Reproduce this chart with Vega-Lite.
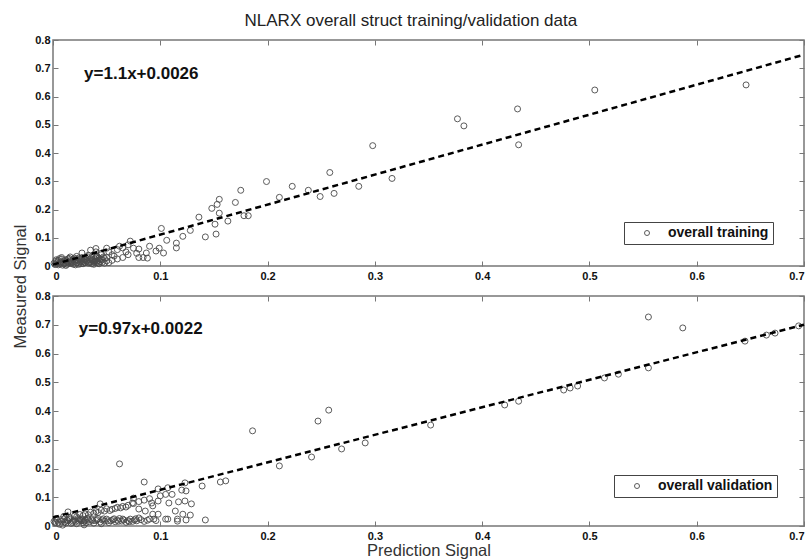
{
  "$schema": "https://vega.github.io/schema/vega-lite/v6.json",
  "padding": {"left": 11, "top": 12, "right": 0, "bottom": 0},
  "title": {
    "text": "NLARX overall struct training/validation data",
    "fontSize": 17,
    "fontWeight": "normal",
    "font": "Liberation Sans",
    "color": "#222",
    "anchor": "middle",
    "offset": 3
  },
  "config": {
    "font": "Liberation Sans",
    "view": {"stroke": "#777", "strokeWidth": 1.5},
    "axis": {
      "grid": false,
      "domain": false,
      "tickColor": "#777",
      "tickSize": -5,
      "labelFont": "Liberation Sans",
      "labelFontWeight": "bold",
      "labelFontSize": 11,
      "labelColor": "#111",
      "titleFont": "Liberation Sans",
      "titleFontWeight": "normal",
      "titleFontSize": 16.5,
      "titleColor": "#333"
    },
    "legend": {
      "title": null,
      "orient": "none",
      "strokeColor": "#444",
      "fillColor": "white",
      "padding": 4,
      "symbolOffset": 12,
      "labelOffset": 14,
      "labelFont": "Liberation Sans",
      "labelFontSize": 14,
      "labelFontWeight": "bold",
      "labelColor": "#111",
      "symbolSize": 25,
      "symbolStrokeWidth": 1
    }
  },
  "datasets": {
    "train": [
      {"x": 0.298, "y": 0.426}, {"x": 0.258, "y": 0.331}, {"x": 0.316, "y": 0.31}, {"x": 0.285, "y": 0.282},
      {"x": 0.262, "y": 0.257}, {"x": 0.249, "y": 0.246}, {"x": 0.238, "y": 0.268}, {"x": 0.223, "y": 0.282},
      {"x": 0.211, "y": 0.243}, {"x": 0.199, "y": 0.299}, {"x": 0.175, "y": 0.268}, {"x": 0.17, "y": 0.225},
      {"x": 0.155, "y": 0.236}, {"x": 0.153, "y": 0.218}, {"x": 0.148, "y": 0.204}, {"x": 0.155, "y": 0.187},
      {"x": 0.136, "y": 0.173}, {"x": 0.163, "y": 0.159}, {"x": 0.178, "y": 0.178}, {"x": 0.182, "y": 0.178},
      {"x": 0.151, "y": 0.148}, {"x": 0.142, "y": 0.103}, {"x": 0.152, "y": 0.113}, {"x": 0.128, "y": 0.126},
      {"x": 0.121, "y": 0.105}, {"x": 0.101, "y": 0.133}, {"x": 0.106, "y": 0.091}, {"x": 0.115, "y": 0.081},
      {"x": 0.115, "y": 0.064}, {"x": 0.099, "y": 0.063}, {"x": 0.377, "y": 0.521}, {"x": 0.383, "y": 0.496},
      {"x": 0.433, "y": 0.556}, {"x": 0.434, "y": 0.429}, {"x": 0.505, "y": 0.623}, {"x": 0.646, "y": 0.641},
      {"x": 0.027, "y": 0.046}, {"x": 0.035, "y": 0.056}, {"x": 0.04, "y": 0.05}, {"x": 0.045, "y": 0.045},
      {"x": 0.05, "y": 0.063}, {"x": 0.052, "y": 0.05}, {"x": 0.055, "y": 0.04}, {"x": 0.057, "y": 0.035},
      {"x": 0.06, "y": 0.058}, {"x": 0.062, "y": 0.07}, {"x": 0.065, "y": 0.064}, {"x": 0.068, "y": 0.05},
      {"x": 0.07, "y": 0.075}, {"x": 0.072, "y": 0.088}, {"x": 0.075, "y": 0.063}, {"x": 0.078, "y": 0.045},
      {"x": 0.08, "y": 0.06}, {"x": 0.08, "y": 0.03}, {"x": 0.084, "y": 0.03}, {"x": 0.087, "y": 0.046},
      {"x": 0.088, "y": 0.028}, {"x": 0.09, "y": 0.07}, {"x": 0.096, "y": 0.053}, {"x": 0.103, "y": 0.046},
      {"x": 0.055, "y": 0.02}, {"x": 0.06, "y": 0.025}, {"x": 0.05, "y": 0.03}, {"x": 0.065, "y": 0.03},
      {"x": 0.07, "y": 0.04}, {"x": 0.04, "y": 0.062},
      {"x": 0.002, "y": 0.005}, {"x": 0.004, "y": 0.012}, {"x": 0.005, "y": 0.02}, {"x": 0.006, "y": 0.008},
      {"x": 0.007, "y": 0.015}, {"x": 0.008, "y": 0.025}, {"x": 0.009, "y": 0.003}, {"x": 0.01, "y": 0.018},
      {"x": 0.011, "y": 0.01}, {"x": 0.012, "y": 0.022}, {"x": 0.013, "y": 0.006}, {"x": 0.014, "y": 0.014},
      {"x": 0.015, "y": 0.027}, {"x": 0.016, "y": 0.019}, {"x": 0.017, "y": 0.009}, {"x": 0.018, "y": 0.013},
      {"x": 0.019, "y": 0.024}, {"x": 0.02, "y": 0.016}, {"x": 0.021, "y": 0.004}, {"x": 0.022, "y": 0.011},
      {"x": 0.023, "y": 0.02}, {"x": 0.024, "y": 0.028}, {"x": 0.025, "y": 0.014}, {"x": 0.026, "y": 0.008},
      {"x": 0.027, "y": 0.021}, {"x": 0.028, "y": 0.017}, {"x": 0.029, "y": 0.026}, {"x": 0.03, "y": 0.012},
      {"x": 0.031, "y": 0.019}, {"x": 0.032, "y": 0.033}, {"x": 0.033, "y": 0.01}, {"x": 0.034, "y": 0.023},
      {"x": 0.035, "y": 0.015}, {"x": 0.036, "y": 0.03}, {"x": 0.037, "y": 0.018}, {"x": 0.038, "y": 0.006},
      {"x": 0.039, "y": 0.025}, {"x": 0.04, "y": 0.012}, {"x": 0.041, "y": 0.035}, {"x": 0.042, "y": 0.02},
      {"x": 0.043, "y": 0.028}, {"x": 0.044, "y": 0.015}, {"x": 0.045, "y": 0.04}, {"x": 0.046, "y": 0.022},
      {"x": 0.047, "y": 0.032}, {"x": 0.048, "y": 0.01}, {"x": 0.003, "y": 0.017}, {"x": 0.006, "y": 0.026},
      {"x": 0.009, "y": 0.013}, {"x": 0.012, "y": 0.002}, {"x": 0.015, "y": 0.01}, {"x": 0.018, "y": 0.02},
      {"x": 0.02, "y": 0.028}, {"x": 0.024, "y": 0.006}, {"x": 0.027, "y": 0.03}, {"x": 0.03, "y": 0.022},
      {"x": 0.033, "y": 0.038}, {"x": 0.036, "y": 0.008}, {"x": 0.039, "y": 0.018}, {"x": 0.042, "y": 0.01},
      {"x": 0.001, "y": 0.01}, {"x": 0.008, "y": 0.03}, {"x": 0.016, "y": 0.032}, {"x": 0.022, "y": 0.034},
      {"x": 0.003, "y": 0.022}, {"x": 0.005, "y": 0.004}, {"x": 0.007, "y": 0.011}, {"x": 0.01, "y": 0.007},
      {"x": 0.013, "y": 0.017}, {"x": 0.014, "y": 0.025}, {"x": 0.017, "y": 0.015}, {"x": 0.019, "y": 0.006},
      {"x": 0.021, "y": 0.022}, {"x": 0.023, "y": 0.013}, {"x": 0.025, "y": 0.024}, {"x": 0.026, "y": 0.017},
      {"x": 0.028, "y": 0.008}, {"x": 0.029, "y": 0.014}, {"x": 0.031, "y": 0.027}, {"x": 0.032, "y": 0.016},
      {"x": 0.034, "y": 0.012}, {"x": 0.035, "y": 0.026}, {"x": 0.037, "y": 0.022}, {"x": 0.038, "y": 0.014},
      {"x": 0.04, "y": 0.029}, {"x": 0.041, "y": 0.017}, {"x": 0.043, "y": 0.008}, {"x": 0.044, "y": 0.024},
      {"x": 0.046, "y": 0.013}, {"x": 0.048, "y": 0.027}, {"x": 0.05, "y": 0.018}, {"x": 0.052, "y": 0.012}
    ],
    "valid": [
      {"x": 0.257, "y": 0.403}, {"x": 0.247, "y": 0.365}, {"x": 0.186, "y": 0.331}, {"x": 0.062, "y": 0.216},
      {"x": 0.085, "y": 0.153}, {"x": 0.211, "y": 0.209}, {"x": 0.241, "y": 0.24}, {"x": 0.269, "y": 0.268},
      {"x": 0.291, "y": 0.289}, {"x": 0.156, "y": 0.153}, {"x": 0.161, "y": 0.157}, {"x": 0.139, "y": 0.139},
      {"x": 0.123, "y": 0.15}, {"x": 0.124, "y": 0.122}, {"x": 0.107, "y": 0.133}, {"x": 0.098, "y": 0.129},
      {"x": 0.111, "y": 0.11}, {"x": 0.117, "y": 0.084}, {"x": 0.123, "y": 0.087}, {"x": 0.129, "y": 0.077},
      {"x": 0.114, "y": 0.052}, {"x": 0.121, "y": 0.041}, {"x": 0.128, "y": 0.038}, {"x": 0.142, "y": 0.021},
      {"x": 0.124, "y": 0.021}, {"x": 0.116, "y": 0.024}, {"x": 0.107, "y": 0.024}, {"x": 0.098, "y": 0.087},
      {"x": 0.093, "y": 0.07}, {"x": 0.098, "y": 0.041}, {"x": 0.093, "y": 0.041}, {"x": 0.086, "y": 0.052},
      {"x": 0.08, "y": 0.059}, {"x": 0.075, "y": 0.097}, {"x": 0.074, "y": 0.08}, {"x": 0.044, "y": 0.077},
      {"x": 0.014, "y": 0.049}, {"x": 0.08, "y": 0.028}, {"x": 0.092, "y": 0.08}, {"x": 0.108, "y": 0.08},
      {"x": 0.116, "y": 0.017}, {"x": 0.105, "y": 0.024}, {"x": 0.094, "y": 0.024},
      {"x": 0.555, "y": 0.727}, {"x": 0.587, "y": 0.689}, {"x": 0.695, "y": 0.696}, {"x": 0.673, "y": 0.671},
      {"x": 0.665, "y": 0.664}, {"x": 0.645, "y": 0.643}, {"x": 0.555, "y": 0.55}, {"x": 0.527, "y": 0.528},
      {"x": 0.514, "y": 0.515}, {"x": 0.489, "y": 0.487}, {"x": 0.482, "y": 0.48}, {"x": 0.476, "y": 0.473},
      {"x": 0.434, "y": 0.434}, {"x": 0.421, "y": 0.421}, {"x": 0.352, "y": 0.351},
      {"x": 0.02, "y": 0.035}, {"x": 0.025, "y": 0.04}, {"x": 0.03, "y": 0.042}, {"x": 0.035, "y": 0.048},
      {"x": 0.04, "y": 0.05}, {"x": 0.045, "y": 0.055}, {"x": 0.05, "y": 0.06}, {"x": 0.055, "y": 0.058},
      {"x": 0.06, "y": 0.065}, {"x": 0.065, "y": 0.068}, {"x": 0.07, "y": 0.072}, {"x": 0.075, "y": 0.078},
      {"x": 0.08, "y": 0.085}, {"x": 0.085, "y": 0.09}, {"x": 0.09, "y": 0.095}, {"x": 0.1, "y": 0.105},
      {"x": 0.105, "y": 0.11}, {"x": 0.12, "y": 0.125},
      {"x": 0.022, "y": 0.032}, {"x": 0.028, "y": 0.036}, {"x": 0.033, "y": 0.039}, {"x": 0.038, "y": 0.044},
      {"x": 0.042, "y": 0.047}, {"x": 0.048, "y": 0.052}, {"x": 0.053, "y": 0.054}, {"x": 0.058, "y": 0.061},
      {"x": 0.063, "y": 0.063}, {"x": 0.068, "y": 0.066}, {"x": 0.015, "y": 0.03}, {"x": 0.01, "y": 0.033},
      {"x": 0.002, "y": 0.012}, {"x": 0.004, "y": 0.02}, {"x": 0.006, "y": 0.006}, {"x": 0.008, "y": 0.016},
      {"x": 0.01, "y": 0.024}, {"x": 0.012, "y": 0.01}, {"x": 0.014, "y": 0.018}, {"x": 0.016, "y": 0.028},
      {"x": 0.018, "y": 0.013}, {"x": 0.02, "y": 0.021}, {"x": 0.022, "y": 0.008}, {"x": 0.024, "y": 0.017},
      {"x": 0.026, "y": 0.025}, {"x": 0.028, "y": 0.012}, {"x": 0.03, "y": 0.02}, {"x": 0.032, "y": 0.027},
      {"x": 0.034, "y": 0.015}, {"x": 0.036, "y": 0.022}, {"x": 0.038, "y": 0.01}, {"x": 0.04, "y": 0.019},
      {"x": 0.042, "y": 0.026}, {"x": 0.044, "y": 0.014}, {"x": 0.046, "y": 0.021}, {"x": 0.048, "y": 0.017},
      {"x": 0.05, "y": 0.024}, {"x": 0.052, "y": 0.012}, {"x": 0.054, "y": 0.019}, {"x": 0.056, "y": 0.022},
      {"x": 0.058, "y": 0.015}, {"x": 0.06, "y": 0.02}, {"x": 0.062, "y": 0.026}, {"x": 0.064, "y": 0.017},
      {"x": 0.066, "y": 0.021}, {"x": 0.068, "y": 0.013}, {"x": 0.07, "y": 0.019}, {"x": 0.072, "y": 0.024},
      {"x": 0.074, "y": 0.016}, {"x": 0.076, "y": 0.021}, {"x": 0.078, "y": 0.018}, {"x": 0.082, "y": 0.022},
      {"x": 0.085, "y": 0.016}, {"x": 0.088, "y": 0.02}, {"x": 0.09, "y": 0.024}, {"x": 0.096, "y": 0.019},
      {"x": 0.001, "y": 0.016}, {"x": 0.003, "y": 0.026}, {"x": 0.007, "y": 0.022}, {"x": 0.011, "y": 0.014},
      {"x": 0.015, "y": 0.023}, {"x": 0.019, "y": 0.017}, {"x": 0.023, "y": 0.026}, {"x": 0.027, "y": 0.019},
      {"x": 0.031, "y": 0.012}, {"x": 0.029, "y": 0.004}, {"x": 0.009, "y": 0.003}, {"x": 0.045, "y": 0.008},
      {"x": 0.005, "y": 0.013}, {"x": 0.013, "y": 0.021}, {"x": 0.017, "y": 0.009}, {"x": 0.021, "y": 0.015},
      {"x": 0.025, "y": 0.022}, {"x": 0.029, "y": 0.017}, {"x": 0.033, "y": 0.023}, {"x": 0.037, "y": 0.018},
      {"x": 0.041, "y": 0.022}, {"x": 0.047, "y": 0.025}, {"x": 0.051, "y": 0.018}, {"x": 0.057, "y": 0.025},
      {"x": 0.061, "y": 0.016}, {"x": 0.065, "y": 0.024}, {"x": 0.071, "y": 0.015}, {"x": 0.077, "y": 0.025}
    ],
    "fitTrain": [{"x": 0, "y": 0.005}, {"x": 0.7, "y": 0.748}],
    "fitValid": [{"x": 0, "y": 0.03}, {"x": 0.7, "y": 0.7}]
  },
  "bounds": "flush",
  "spacing": 30,
  "vconcat": [
    {
      "width": 751,
      "height": 226,
      "layer": [
        {
          "data": {"name": "train"},
          "mark": {"type": "point", "shape": "circle", "filled": false, "size": 36, "strokeWidth": 1, "opacity": 0.9},
          "encoding": {
            "x": {"field": "x", "type": "quantitative", "scale": {"domain": [0, 0.7], "nice": false},
                  "axis": {"values": [0, 0.1, 0.2, 0.3, 0.4, 0.5, 0.6, 0.7], "format": "~g", "title": null, "labelPadding": 9}},
            "y": {"field": "y", "type": "quantitative", "scale": {"domain": [0, 0.8], "nice": false},
                  "axis": {"values": [0, 0.1, 0.2, 0.3, 0.4, 0.5, 0.6, 0.7, 0.8], "format": "~g", "title": null, "labelPadding": 8}},
            "color": {"datum": "overall training", "type": "nominal", "scale": {"range": ["#4a4a4a"]},
                      "legend": {"legendX": 571, "legendY": 182}}
          }
        },
        {
          "data": {"name": "fitTrain"},
          "mark": {"type": "line", "color": "black", "strokeWidth": 2.5, "strokeDash": [6, 4]},
          "encoding": {
            "x": {"field": "x", "type": "quantitative",
                  "axis": {"orient": "top", "values": [0, 0.1, 0.2, 0.3, 0.4, 0.5, 0.6, 0.7], "labels": false, "title": null}},
            "y": {"field": "y", "type": "quantitative",
                  "axis": {"orient": "right", "values": [0, 0.1, 0.2, 0.3, 0.4, 0.5, 0.6, 0.7, 0.8], "labels": false, "title": null}}
          }
        },
        {
          "data": {"values": [{"label": "y=1.1x+0.0026"}]},
          "mark": {"type": "text", "align": "left", "baseline": "middle", "fontSize": 17, "fontWeight": "bold", "color": "#111"},
          "encoding": {
            "x": {"datum": 0.029, "type": "quantitative", "axis": null},
            "y": {"datum": 0.68, "type": "quantitative", "axis": null},
            "text": {"field": "label"}
          }
        }
      ],
      "resolve": {"axis": {"x": "independent", "y": "independent"}}
    },
    {
      "width": 751,
      "height": 230,
      "layer": [
        {
          "data": {"name": "valid"},
          "mark": {"type": "point", "shape": "circle", "filled": false, "size": 36, "strokeWidth": 1, "opacity": 0.9},
          "encoding": {
            "x": {"field": "x", "type": "quantitative", "scale": {"domain": [0, 0.7], "nice": false},
                  "axis": {"values": [0, 0.1, 0.2, 0.3, 0.4, 0.5, 0.6, 0.7], "format": "~g", "title": "Prediction Signal", "labelPadding": 9, "titlePadding": 1}},
            "y": {"field": "y", "type": "quantitative", "scale": {"domain": [0, 0.8], "nice": false},
                  "axis": {"values": [0, 0.1, 0.2, 0.3, 0.4, 0.5, 0.6, 0.7, 0.8], "format": "~g", "title": "Measured Signal", "labelPadding": 8, "titleY": -10, "titlePadding": 6}},
            "color": {"datum": "overall validation", "type": "nominal", "scale": {"range": ["#4a4a4a"]},
                      "legend": {"legendX": 561, "legendY": 179}}
          }
        },
        {
          "data": {"name": "fitValid"},
          "mark": {"type": "line", "color": "black", "strokeWidth": 2.5, "strokeDash": [6, 4]},
          "encoding": {
            "x": {"field": "x", "type": "quantitative",
                  "axis": {"orient": "top", "values": [0, 0.1, 0.2, 0.3, 0.4, 0.5, 0.6, 0.7], "labels": false, "title": null}},
            "y": {"field": "y", "type": "quantitative",
                  "axis": {"orient": "right", "values": [0, 0.1, 0.2, 0.3, 0.4, 0.5, 0.6, 0.7, 0.8], "labels": false, "title": null}}
          }
        },
        {
          "data": {"values": [{"label": "y=0.97x+0.0022"}]},
          "mark": {"type": "text", "align": "left", "baseline": "middle", "fontSize": 17, "fontWeight": "bold", "color": "#111"},
          "encoding": {
            "x": {"datum": 0.024, "type": "quantitative", "axis": null},
            "y": {"datum": 0.685, "type": "quantitative", "axis": null},
            "text": {"field": "label"}
          }
        }
      ],
      "resolve": {"axis": {"x": "independent", "y": "independent"}}
    }
  ],
  "resolve": {"scale": {"color": "independent"}, "legend": {"color": "independent"}}
}
